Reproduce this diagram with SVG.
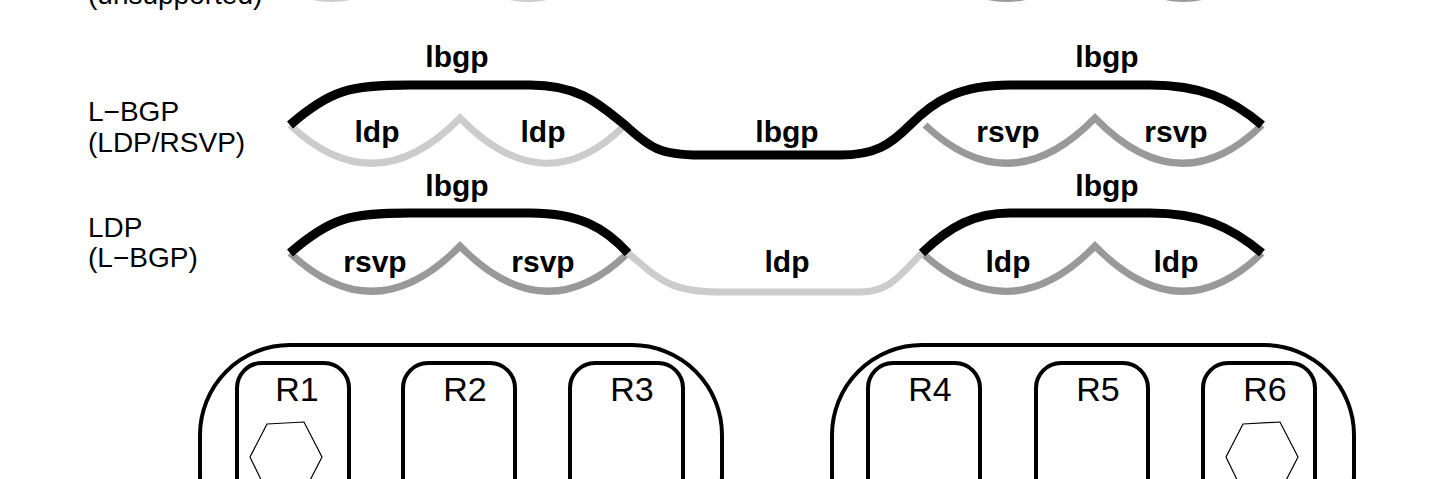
<svg xmlns="http://www.w3.org/2000/svg" width="1438" height="479" viewBox="0 0 1438 479">
<style>
text{font-family:"Liberation Sans",Arial,sans-serif}
.lab{font-size:28px}
.t{font-size:30px;font-weight:bold;text-anchor:middle}
.r{font-size:34px;text-anchor:middle}
.k{fill:none;stroke:#000;stroke-width:9}
.l{fill:none;stroke:#ccc;stroke-width:7}
.g{fill:none;stroke:#999;stroke-width:7}
.box{fill:none;stroke:#000;stroke-width:4}
.hex{fill:none;stroke:#000;stroke-width:1.2}
</style>
<rect width="1438" height="479" fill="#fff"/>
<g id="labels">
<text class="lab" x="88" y="4">(unsupported)</text>
<text class="lab" x="88" y="121">L−BGP</text>
<text class="lab" x="88" y="152">(LDP/RSVP)</text>
<text class="lab" x="88" y="237">LDP</text>
<text class="lab" x="88" y="267">(L−BGP)</text>
</g>
<g id="connectors">
<path class="l" d="M250,-40 Q335,40 420,-47"/>
<path class="l" d="M440,-47 Q525,40 610,-40"/>
<path class="g" d="M925,-40 Q1010,40 1095,-47"/>
<path class="g" d="M1095,-47 Q1180,40 1265,-40"/>
<!-- row L-BGP -->
<path class="l" d="M290,125 Q375,205 460,118 Q545,205 625,125"/>
<path class="g" d="M925,125 Q1010,205 1095,118 Q1180,205 1262,125"/>
<path class="k" d="M290,125 C330,90 350,85 410,85 L530,85 C580,85 600,105 625,125 C650,148 660,155 700,155 L840,155 C875,155 890,145 910,125 C935,100 960,85 1010,85 L1150,85 C1200,85 1230,98 1262,125"/>
<text class="t" x="457" y="67">lbgp</text>
<text class="t" x="377" y="142">ldp</text>
<text class="t" x="543" y="142">ldp</text>
<text class="t" x="787" y="142">lbgp</text>
<text class="t" x="1008" y="142">rsvp</text>
<text class="t" x="1176" y="142">rsvp</text>
<text class="t" x="1107" y="67">lbgp</text>
<!-- row LDP -->
<path class="g" d="M290,253 Q375,333 460,246 Q545,333 628,253"/>
<path class="g" d="M922,253 Q1010,333 1095,246 Q1180,333 1262,253"/>
<path class="l" d="M628,253 C660,280 670,292 720,292 L860,292 C890,292 900,275 922,253"/>
<path class="k" d="M290,253 C330,218 350,213 410,213 L530,213 C580,213 605,228 628,253"/>
<path class="k" d="M922,253 C950,226 975,213 1010,213 L1150,213 C1200,213 1230,226 1262,253"/>
<text class="t" x="457" y="196">lbgp</text>
<text class="t" x="375" y="272">rsvp</text>
<text class="t" x="543" y="272">rsvp</text>
<text class="t" x="787" y="272">ldp</text>
<text class="t" x="1008" y="272">ldp</text>
<text class="t" x="1176" y="272">ldp</text>
<text class="t" x="1107" y="196">lbgp</text>
</g>
<g id="site1"><rect class="box" x="200" y="345" width="522" height="220" rx="90"/></g>
<g id="site2"><rect class="box" x="832" y="345" width="522" height="220" rx="90"/></g>
<g id="R1"><rect class="box" x="237" y="363" width="112" height="160" rx="25"/><text class="r" x="297" y="401">R1</text><polygon class="hex" points="267,424 304,422 322,457 304,492 267,492 250,457"/></g>
<g id="R2"><rect class="box" x="403" y="363" width="112" height="160" rx="25"/><text class="r" x="465" y="401">R2</text></g>
<g id="R3"><rect class="box" x="570" y="363" width="113" height="160" rx="25"/><text class="r" x="632" y="401">R3</text></g>
<g id="R4"><rect class="box" x="868" y="363" width="112" height="160" rx="25"/><text class="r" x="930" y="401">R4</text></g>
<g id="R5"><rect class="box" x="1036" y="363" width="112" height="160" rx="25"/><text class="r" x="1098" y="401">R5</text></g>
<g id="R6"><rect class="box" x="1203" y="363" width="112" height="160" rx="25"/><text class="r" x="1265" y="401">R6</text><polygon class="hex" points="1243,424 1280,422 1298,457 1280,492 1243,492 1226,457"/></g>
</svg>
